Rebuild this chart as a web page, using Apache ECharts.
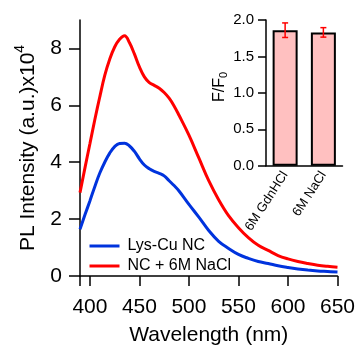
<!DOCTYPE html>
<html>
<head>
<meta charset="utf-8">
<script src="https://cdn.jsdelivr.net/npm/echarts@6/dist/echarts.min.js"></script>
<style>html,body{margin:0;padding:0;background:#fff}#c{width:358px;height:351px}</style>
</head>
<body>
<div id="c"></div>
<script>
// ---- Data ----
const wavelengths = [390,395,400,405,410,415,420,425,430,435,440,445,450,455,460,465,470,475,480,485,490,500,510,520,530,540,550,560,570,580,590,600,610,620,630,640,650];
const lysCu = [1.64,2.15,2.64,3.15,3.62,4.0,4.32,4.55,4.66,4.67,4.57,4.38,4.12,3.9,3.77,3.68,3.61,3.52,3.35,3.18,2.99,2.52,2.07,1.60,1.22,0.97,0.76,0.62,0.51,0.44,0.36,0.30,0.25,0.21,0.18,0.16,0.14];
const ncNaCl = [2.93,3.8,4.65,5.5,6.3,7.05,7.62,8.05,8.32,8.45,8.2,7.8,7.35,7.0,6.8,6.7,6.6,6.45,6.25,5.98,5.65,4.95,4.15,3.35,2.68,2.12,1.70,1.35,1.08,0.90,0.72,0.60,0.51,0.44,0.38,0.34,0.31];
const seriesNames = ['Lys-Cu NC','NC + 6M NaCl'];
const xTicks = [390,400,450,500,550,600,650];
const xLabels = [400,450,500,550,600,650];
const yTicks = [0,2,4,6,8];
const insetCats = ['6M GdnHCl','6M NaCl'];
const insetVals = [1.86,1.83];
const insetErr = [0.10,0.065];

const FONT = 'Liberation Sans, Arial, sans-serif';
const zip = (a,b)=>a.map((v,i)=>[v,b[i]]);

const chart = echarts.init(document.getElementById('c'), null, {renderer:'canvas'});
const axisLine = {show:true, lineStyle:{color:'#000', width:1.5}};
chart.setOption({
  animation:false,
  backgroundColor:'#fff',
  grid:[
    {left:80, right:20, top:20, bottom:74},
    {left:266, right:15.5, top:20, bottom:185.3}
  ],
  legend:{
    data:seriesNames, orient:'vertical', left:88, top:238, padding:0,
    itemWidth:30, itemHeight:14, itemGap:4,
    itemStyle:{opacity:0},
    lineStyle:{width:3},
    textStyle:{fontFamily:FONT, fontSize:16, color:'#000', padding:[0,0,0,3]}
  },
  xAxis:[
    {gridIndex:0, type:'value', min:390, max:650,
     axisLine:axisLine,
     axisTick:{show:true, length:10, inside:false, customValues:xTicks, lineStyle:{color:'#000', width:1.5}},
     axisLabel:{customValues:xLabels, fontFamily:FONT, fontSize:21, color:'#000', margin:21},
     splitLine:{show:false},
     name:'Wavelength (nm)', nameLocation:'middle', nameGap:49,
     nameTextStyle:{fontFamily:FONT, fontSize:21, color:'#000'}},
    {gridIndex:1, type:'category', data:insetCats,
     axisLine:axisLine, axisTick:{show:false},
     axisLabel:{rotate:57, fontFamily:FONT, fontSize:13, color:'#000', margin:7, interval:0},
     splitLine:{show:false}}
  ],
  yAxis:[
    {gridIndex:0, type:'value', min:0, max:9,
     axisLine:axisLine,
     axisTick:{show:true, length:11, customValues:yTicks, lineStyle:{color:'#000', width:1.5}},
     axisLabel:{customValues:yTicks, fontFamily:FONT, fontSize:21, color:'#000', margin:18},
     splitLine:{show:false},
     name:'{a|PL Intensity (a.u.)x10}{b|4}', nameLocation:'middle', nameRotate:90, nameGap:37,
     nameTextStyle:{rich:{
       a:{fontFamily:FONT, fontSize:21, lineHeight:30, color:'#000'},
       b:{fontFamily:FONT, fontSize:14, lineHeight:14, verticalAlign:'top', color:'#000'}
     }}},
    {gridIndex:1, type:'value', min:0, max:2, interval:0.5,
     axisLine:axisLine,
     axisTick:{show:true, length:8, lineStyle:{color:'#000', width:1.5}},
     axisLabel:{fontFamily:FONT, fontSize:15, color:'#000', margin:12, formatter:v=>v.toFixed(1)},
     splitLine:{show:false},
     name:'{a|F/F}{b|0}', nameLocation:'middle', nameRotate:90, nameGap:33,
     nameTextStyle:{padding:[0,0,0,12], rich:{
       a:{fontFamily:FONT, fontSize:16, lineHeight:20, color:'#000'},
       b:{fontFamily:FONT, fontSize:11, lineHeight:11, verticalAlign:'bottom', color:'#000'}
     }}}
  ],
  series:[
    {name:seriesNames[0], type:'line', xAxisIndex:0, yAxisIndex:0, data:zip(wavelengths,lysCu),
     smooth:0.4, symbol:'none', lineStyle:{color:'#0033dd', width:3}, itemStyle:{color:'#0033dd'}},
    {name:seriesNames[1], type:'line', xAxisIndex:0, yAxisIndex:0, data:zip(wavelengths,ncNaCl),
     smooth:0.4, symbol:'none', lineStyle:{color:'#ff0000', width:3}, itemStyle:{color:'#ff0000'}},
    {type:'bar', xAxisIndex:1, yAxisIndex:1, data:insetVals, barWidth:25,
     itemStyle:{color:'#ffc0c0', borderColor:'#000', borderWidth:2}},
    {type:'custom', xAxisIndex:1, yAxisIndex:1,
     data:insetVals.map((v,i)=>[i, v-insetErr[i], v+insetErr[i]]),
     renderItem:(params, api)=>{
       const lo = api.coord([api.value(0), api.value(1)]);
       const hi = api.coord([api.value(0), api.value(2)]);
       const w = 3;
       const st = {stroke:'#ff0000', lineWidth:1.5};
       return {type:'group', children:[
         {type:'line', shape:{x1:lo[0], y1:lo[1], x2:hi[0], y2:hi[1]}, style:st},
         {type:'line', shape:{x1:lo[0]-w, y1:lo[1], x2:lo[0]+w, y2:lo[1]}, style:st},
         {type:'line', shape:{x1:hi[0]-w, y1:hi[1], x2:hi[0]+w, y2:hi[1]}, style:st}
       ]};
     }, z:5}
  ]
});
</script>
</body>
</html>
